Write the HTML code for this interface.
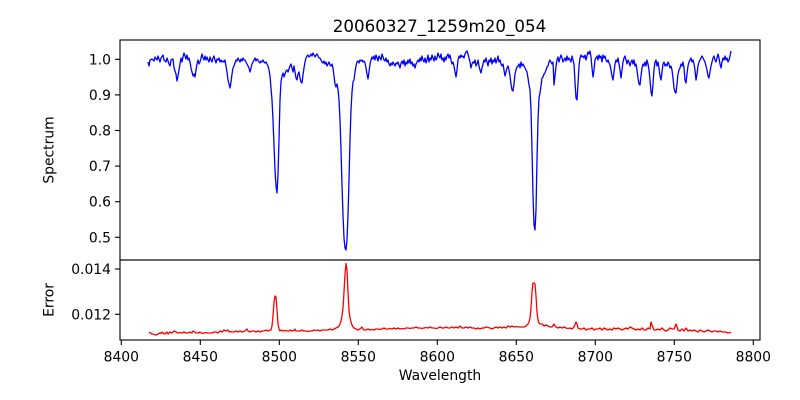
<!DOCTYPE html>
<html>
<head>
<meta charset="utf-8">
<style>
  html, body { margin: 0; padding: 0; background: #ffffff; }
  svg { display: block; }
  text { font-family: "DejaVu Sans", "Liberation Sans", sans-serif; fill: #000; }
</style>
</head>
<body>
<svg width="800" height="400" viewBox="0 0 800 400" xmlns="http://www.w3.org/2000/svg">
  <rect x="0" y="0" width="800" height="400" fill="#ffffff"/>

  <!-- Title -->
  <text x="439.5" y="32" font-size="16.7" text-anchor="middle">20060327_1259m20_054</text>

  <!-- Spectrum series -->
  <polyline fill="none" stroke="#0000ff" stroke-width="1.3" stroke-linejoin="round" points="
148,62 149,66 150,60 152,59 154,61 155,57 157,60 158,56 160,62 161,58 163,55 164,60 166,62 167,58 169,64 170,66 171,60 173,59 174,68 176,74 177,81 178,76 179,70 180,64 181,58 182,62 183,57 184,53 185,56 186,59 187,55 188,60 189,58 190,62 191,68 192,72 193,76 194,74 195,77 196,70 197,64 198,60 199,64 200,62 201,58 202,54 203,58 204,60 205,56 206,60 207,57 208,60 209,62 210,57 211,60 212,62 213,58 214,56 215,60 216,63 217,59 218,60 219,58 220,62 221,60 222,62 223,61 224,62 225,60 226,66 227,72 228,80 229,84 230,88 231,82 232,74 233,68 234,66 235,63 236,60 237,61 238,58 239,60 240,62 241,59 242,61 243,58 244,60 245,60 246,62 247,64 248,66 249,68 250,72 251,68 252,64 253,62 254,60 255,58 256,61 257,59 258,60 259,62 260,63 261,61 262,62 263,60 264,62 265,63 266,62 267,64 268,66 269,70 270,76 271,88 272,100 273,120 274,145 275,170 276,186 277,193 278,175 279,140 280,100 281,82 282,76 283,73 284,77 285,74 286,71 287,70 288,72 289,69 290,66 291,64 292,68 293,72 294,66 295,72 296,78 297,80 298,74 299,72 300,78 301,82 302,83 303,75 304,68 305,62 306,58 307,56 308,55 309,57 310,56 311,54 312,56 313,53 314,55 315,57 316,55 317,54 318,56 319,58 320,58 321,60 322,62 323,63 324,61 325,64 326,62 327,66 328,64 329,62 330,65 331,66 332,64 333,68 334,76 335,84 336,87 337,84 338,89 339,100 340,120 341,150 342,185 343,215 344,238 345,248 346,250 347,240 348,215 349,180 350,140 351,110 352,92 353,82 354,80 355,72 356,66 357,62 358,61 359,63 360,60 361,61 362,60 363,62 364,61 365,63 366,68 367,74 368,79 369,72 370,64 371,60 372,57 373,59 374,56 375,60 376,55 377,58 378,61 379,56 380,58 381,60 382,54 383,57 384,60 385,61 386,58
387,62 388,60 389,64 390,66 391,63 392,65 393,62 394,64 395,66 396,63 397,64 398,62 399,65 400,68 401,63 402,61 403,64 404,60 405,66 406,62 407,64 408,60 409,63 410,59 411,64 412,62 413,66 414,64 415,68 416,64 417,62 418,60 419,62 420,58 421,61 422,56 423,60 424,62 425,58 426,63 427,60 428,55 429,62 430,58 431,60 432,55 433,58 434,61 435,56 436,60 437,58 438,53 439,56 440,58 441,54 442,60 443,58 444,62 445,57 446,60 447,56 448,54 449,58 450,55 451,60 452,64 453,62 454,66 455,72 456,77 457,70 458,60 459,56 460,58 461,55 462,57 463,56 464,58 465,54 466,52 467,51 468,54 469,58 470,62 471,68 472,64 473,62 474,63 475,60 476,66 477,64 478,60 479,66 480,70 481,73 482,68 483,64 484,60 485,62 486,58 487,62 488,66 489,60 490,62 491,58 492,64 493,60 494,62 495,58 496,63 497,60 498,56 499,62 500,60 501,64 502,66 503,64 504,70 505,76 506,72 507,68 508,66 509,70 510,76 511,84 512,90 513,91 514,84 515,74 516,70 517,67 518,66 519,64 520,68 521,62 522,66 523,64 524,66 525,68 526,70 527,72 528,78 529,85 530,90 531,110 532,150 533,195 534,225 535,230 536,210 537,160 538,120 539,98 540,93 541,86 542,78 543,77 544,74 545,73 546,70 547,67 548,66 549,62 550,60 551,62 552,64 553,62 554,85 555,76 556,66 557,60 558,57 559,62 560,58 561,55 562,58 563,62 564,60 565,58 566,61 567,56 568,60 569,58 570,60 571,62 572,56 573,60 574,64 575,82 576,98 577,100 578,84 579,66 580,58 581,55 582,57 583,56 584,58 585,55 586,60 587,56 588,52 589,54 590,51 591,57 592,68 593,77 594,70 595,60 596,58 597,56 598,60 599,55 600,58 601,56 602,62 603,55 604,58 605,56 606,60 607,62 608,60 609,63 610,65 611,70 612,76 613,80 614,72 615,64 616,60 617,62 618,58 619,64 620,70 621,78 622,70 623,62 624,58 625,56 626,60 627,64 628,60 629,62 630,66 631,62 632,60 633,64 634,60 635,66 636,64 637,70 638,78 639,84 640,85 641,76 642,68 643,64 644,66 645,62 646,66 647,60 648,64 649,70 650,80 651,92 652,96 653,84 654,70 655,62 656,60 657,66 658,62 659,68 660,76 661,80 662,72 663,64 664,62 665,66 666,64 667,66 668,62 669,64 670,68 671,66 672,70 673,78 674,88 675,92 676,93 677,84 678,74 679,70 680,68 681,64 682,66 683,62 684,68 685,80 686,83 687,74 688,66 689,62 690,60 691,58 692,62 693,60 694,64 695,70 696,80 697,74 698,66 699,62 700,60 701,58 702,56 703,58 704,60 705,62 706,66 707,70 708,76 709,78 710,72 711,66 712,62 713,58 714,56 715,60 716,62 717,58 718,54 719,58 720,64 721,68 722,62 723,58 724,60 725,56 726,60 727,58 728,62 729,60 730,56 731,51"/>

  <!-- Error series -->
  <polyline fill="none" stroke="#ff0000" stroke-width="1.3" stroke-linejoin="round" points="
149,333 150,332.5 152,334 154,334.5 156,335 158,334 160,333 161,333.5 162,332 163,333 165,334 166,333 167,332 168,334 170,332 172,333 174,331 176,332 178,333 180,332.5 182,333 184,332 186,333 188,333 190,332 192,333 193,331 194,331.5 196,333 198,333 200,332 202,333.5 204,333 206,332.5 208,333 210,333 212,333 214,332 216,332 218,333 220,331 222,332 224,330 226,331 228,330 229,332 230,331.5 232,332 234,332 236,331 238,332 240,331 242,332 244,331.5 246,330 247,329 248,331 250,332 252,331 254,331 256,332 258,331 260,332 262,331 264,331 266,330 268,331 270,330 271,330 272,326 273,316 274,302 275,296 276,297 277,310 278,324 279,329 280,331 281,330 283,331 285,330.5 287,331 289,331 290,330 292,331 294,330.5 295,329 296,331 298,331 300,331 302,330 304,331 306,331 308,331.5 310,331 312,331 314,330 316,330.5 318,330 320,331 322,330 324,330 326,330 328,330 330,329 332,330 334,329 336,328 338,327 339,326 340,324 341,321 342,316 343,308 344,292 345,274 346,263.5 347,270 348,292 349,310 350,318 351,322 352,325 353,327 354,328 356,329 358,330 360,329 362,327 363,329 364,330 366,330 368,329 370,330 372,329.5 374,330 376,329 378,329 380,329.5 382,329 384,328 386,329 388,329 390,328.5 392,329 394,328 396,329 398,328 400,329 402,328.5 404,329 406,328 408,328 410,328.5 412,328 414,328 416,327 418,328 420,328 422,328.5 424,328 426,327.5 428,328 430,327 432,328 434,328 436,328.5 438,328 440,327 442,328 444,328 446,327 448,328 450,328 452,327 454,328 456,327 458,328 460,326 462,328 464,328 466,327 468,328 470,327 472,328 474,328 476,329 478,328 480,329 482,328 484,328 486,327 488,327.5 490,328 492,329 494,328 496,327 498,328 500,327 502,328 504,327 506,328 508,326 510,327 512,326 514,327 516,326.5 518,327 520,327 522,327 524,327 526,326 527,325 528,324 529,322 530,318 531,308 532,292 533,283 534,283 535,284 536,296 537,312 538,320 539,323 540,324 542,324 544,326 546,325 548,326 550,327 552,327 554,324 555,326 556,327 558,328 560,327 562,328 564,327 566,328 568,328.5 570,328 572,329 574,327 576,322 577,324 578,328 580,329 582,329 584,328 586,330 588,329 590,329 592,328 594,330 596,329 598,329 600,328 602,330 604,328 606,329 608,330 610,329 612,330 614,328 616,329 618,328 620,329 622,330 624,329 626,328 628,329 630,327 632,328 634,329 636,330 638,329 640,330 642,328 644,330 646,330 648,328 650,329 651,322 652,325 654,330 656,330 658,329 660,330 662,328 664,330 666,331 668,330 670,328 672,329 674,329 676,324 677,327 678,330 680,331 682,329 684,331 686,328 688,331 690,330 692,331 694,330 696,331 698,332 700,330 702,331 704,332 706,331 708,330 710,331 712,332 714,331 716,331 718,332 720,331 722,332 724,332 726,332 728,333 730,332.5 731,333"/>

  <!-- Axes frames -->
  <rect x="120" y="40" width="640" height="220" fill="none" stroke="#000" stroke-width="1.1"/>
  <rect x="120" y="260" width="640" height="80" fill="none" stroke="#000" stroke-width="1.1"/>

  <!-- Top y ticks -->
  <g stroke="#000" stroke-width="1.1">
    <line x1="115" y1="59.3" x2="120" y2="59.3"/>
    <line x1="115" y1="94.9" x2="120" y2="94.9"/>
    <line x1="115" y1="130.5" x2="120" y2="130.5"/>
    <line x1="115" y1="166.1" x2="120" y2="166.1"/>
    <line x1="115" y1="201.7" x2="120" y2="201.7"/>
    <line x1="115" y1="237.3" x2="120" y2="237.3"/>
    <line x1="115" y1="269" x2="120" y2="269"/>
    <line x1="115" y1="314.3" x2="120" y2="314.3"/>
  </g>
  <g font-size="13.9" text-anchor="end">
    <text x="111" y="64.3">1.0</text>
    <text x="111" y="99.9">0.9</text>
    <text x="111" y="135.5">0.8</text>
    <text x="111" y="171.1">0.7</text>
    <text x="111" y="206.7">0.6</text>
    <text x="111" y="242.3">0.5</text>
    <text x="111" y="274">0.014</text>
    <text x="111" y="319.3">0.012</text>
  </g>

  <!-- X ticks -->
  <g stroke="#000" stroke-width="1.1">
    <line x1="121.3" y1="340" x2="121.3" y2="345"/>
    <line x1="200.3" y1="340" x2="200.3" y2="345"/>
    <line x1="279.3" y1="340" x2="279.3" y2="345"/>
    <line x1="358.3" y1="340" x2="358.3" y2="345"/>
    <line x1="437.3" y1="340" x2="437.3" y2="345"/>
    <line x1="516.3" y1="340" x2="516.3" y2="345"/>
    <line x1="595.3" y1="340" x2="595.3" y2="345"/>
    <line x1="674.3" y1="340" x2="674.3" y2="345"/>
    <line x1="753.3" y1="340" x2="753.3" y2="345"/>
  </g>
  <g font-size="13.9" text-anchor="middle">
    <text x="121.3" y="361.5">8400</text>
    <text x="200.3" y="361.5">8450</text>
    <text x="279.3" y="361.5">8500</text>
    <text x="358.3" y="361.5">8550</text>
    <text x="437.3" y="361.5">8600</text>
    <text x="516.3" y="361.5">8650</text>
    <text x="595.3" y="361.5">8700</text>
    <text x="674.3" y="361.5">8750</text>
    <text x="753.3" y="361.5">8800</text>
  </g>

  <!-- Axis labels -->
  <text x="440" y="380" font-size="13.9" text-anchor="middle">Wavelength</text>
  <text transform="translate(53.5,150) rotate(-90)" font-size="13.9" text-anchor="middle">Spectrum</text>
  <text transform="translate(53.5,300) rotate(-90)" font-size="13.9" text-anchor="middle">Error</text>
</svg>
</body>
</html>
